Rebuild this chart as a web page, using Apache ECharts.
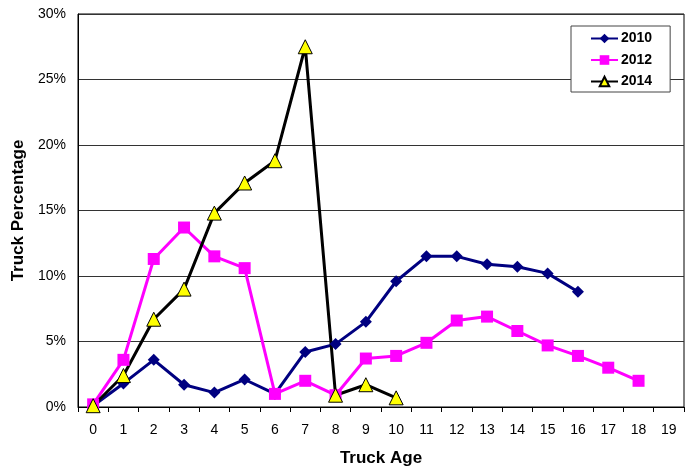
<!DOCTYPE html>
<html>
<head>
<meta charset="utf-8">
<script src="https://cdn.jsdelivr.net/npm/echarts@6/dist/echarts.min.js"></script>
<style>
  html, body { margin: 0; padding: 0; background: #fff; }
  #chart { width: 686px; height: 475px; }
</style>
</head>
<body>
<div id="chart"></div>
<script>
// Truck age categories (years)
const ages = ['0','1','2','3','4','5','6','7','8','9','10','11','12','13','14','15','16','17','18','19'];

// Share of trucks (%) by age, per survey year
const pct2010 = [0.1, 1.8, 3.6, 1.7, 1.1, 2.1, 1.0, 4.2, 4.8, 6.5, 9.6, 11.5, 11.5, 10.9, 10.7, 10.2, 8.8];
const pct2012 = [0.2, 3.6, 11.3, 13.7, 11.5, 10.6, 1.0, 2.0, 0.9, 3.7, 3.9, 4.9, 6.6, 6.9, 5.8, 4.7, 3.9, 3.0, 2.0];
const pct2014 = [0.1, 2.4, 6.7, 9.0, 14.8, 17.1, 18.8, 27.5, 0.9, 1.7, 0.7];

// Y-axis range and step (%)
const yMin = 0, yMax = 30, yStep = 5;

const font = '"Liberation Sans", Arial, sans-serif';
const chart = echarts.init(document.getElementById('chart'), null, { renderer: 'canvas' });

chart.setOption({
  animation: false,
  backgroundColor: '#fff',
  grid: {
    left: 78, top: 14, right: 2, bottom: 68,
    show: true, borderColor: '#000', borderWidth: 1, backgroundColor: 'transparent'
  },
  legend: {
    orient: 'vertical',
    left: 571, top: 26,
    padding: [4, 18, 2, 19],
    itemWidth: 27, itemHeight: 12, itemGap: 4.5,
    backgroundColor: '#fff',
    borderColor: '#444', borderWidth: 1,
    textStyle: { fontFamily: font, fontSize: 14, fontWeight: 'bold', color: '#000', lineHeight: 17, padding: [0, 0, 0, -2] },
    data: ['2010', '2012', '2014']
  },
  xAxis: {
    type: 'category',
    data: ages,
    boundaryGap: true,
    name: 'Truck Age',
    nameLocation: 'middle',
    nameGap: 43,
    nameTextStyle: { fontFamily: font, fontSize: 17, fontWeight: 'bold', color: '#000' },
    axisLine: { lineStyle: { color: '#000', width: 1 } },
    axisTick: { show: true, alignWithLabel: false, length: 5, lineStyle: { color: '#000' } },
    axisLabel: { fontFamily: font, fontSize: 14, color: '#000', margin: 16 },
    splitLine: { show: false }
  },
  yAxis: {
    type: 'value',
    min: yMin, max: yMax, interval: yStep,
    name: 'Truck Percentage',
    nameLocation: 'middle',
    nameGap: 46,
    nameTextStyle: { fontFamily: font, fontSize: 17, fontWeight: 'bold', color: '#000' },
    axisLine: { show: true, lineStyle: { color: '#000', width: 1 } },
    axisTick: { show: false },
    axisLabel: { fontFamily: font, fontSize: 14, color: '#000', margin: 12, formatter: '{value}%' },
    splitLine: { show: true, lineStyle: { color: '#333', width: 1 } }
  },
  series: [
    {
      name: '2010', type: 'line', data: pct2010,
      symbol: 'diamond', symbolSize: 12,
      lineStyle: { color: '#000080', width: 3 },
      itemStyle: { color: '#000080' }
    },
    {
      name: '2012', type: 'line', data: pct2012,
      symbol: 'rect', symbolSize: 12,
      lineStyle: { color: '#FF00FF', width: 3 },
      itemStyle: { color: '#FF00FF' }
    },
    {
      name: '2014', type: 'line', data: pct2014,
      symbol: 'triangle', symbolSize: 14,
      lineStyle: { color: '#000', width: 3 },
      itemStyle: { color: '#FFFF00', borderColor: '#000', borderWidth: 1 }
    }
  ]
});
</script>
</body>
</html>
